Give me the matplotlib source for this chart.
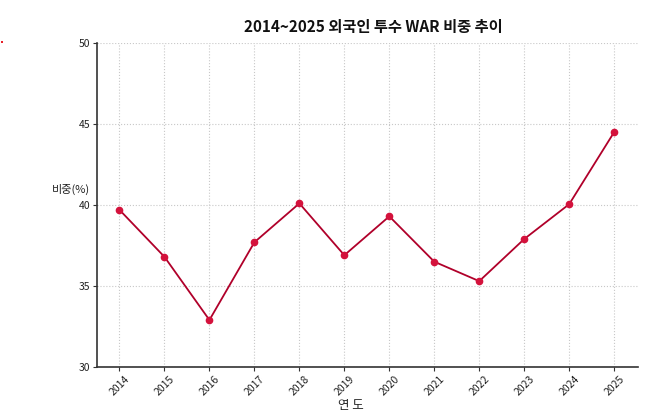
import matplotlib
matplotlib.use("Agg")
import matplotlib.pyplot as plt

plt.rcParams['font.family'] = ['Noto Sans CJK KR', 'DejaVu Sans']

years = [2014, 2015, 2016, 2017, 2018, 2019, 2020, 2021, 2022, 2023, 2024, 2025]
war_share = [39.7, 36.8, 32.9, 37.7, 40.1, 36.9, 39.3, 36.5, 35.3, 37.9, 40.05, 44.5]
yticks = [30, 35, 40, 45, 50]

fig = plt.figure(figsize=(6.58, 4.13), dpi=100)
ax = fig.add_axes([97/658, 1-367/413, (638-97)/658, (367-43)/413])

ax.plot(years, war_share, color='#b0002a', lw=1.3, marker='o', ms=4.5,
        markerfacecolor='#d4123c', markeredgecolor='#d4123c', zorder=3)

ax.set_xlim(2013.5, 2025.53)
ax.set_ylim(30, 50)
ax.set_xticks(years)
ax.set_xticklabels([str(y) for y in years], rotation=45, fontsize=7.5, color='#222222')
ax.set_yticks(yticks)
ax.set_yticklabels([str(v) for v in yticks], fontsize=7.5, color='#222222')
ax.tick_params(axis='both', length=3, width=0.8, color='#333333', pad=2)

ax.grid(True, linestyle=':', color='#c8c8c8', lw=0.8)
for s in ['top', 'right']:
    ax.spines[s].set_visible(False)
for s in ['left', 'bottom']:
    ax.spines[s].set_color('#333333')
    ax.spines[s].set_linewidth(1.2)

ax.set_ylabel('비중(%)', rotation=0, fontsize=8, color='#222222')
ax.yaxis.set_label_coords(-0.048, 0.53)
ax.set_xlabel('연 도', fontsize=9, color='#222222')
ax.xaxis.set_label_coords(0.47, -0.1)

fig.text(373/658, 1-27/413, '2014~2025 외국인 투수 WAR 비중 추이', ha='center', va='center',
         fontsize=11, fontweight='bold', color='#111111')

fig.patches.append(plt.Rectangle((1/658, 1-43/413), 2/658, 2/413, transform=fig.transFigure,
                                 color='#e8202a', lw=0))

fig.savefig('out.png', dpi=100)
